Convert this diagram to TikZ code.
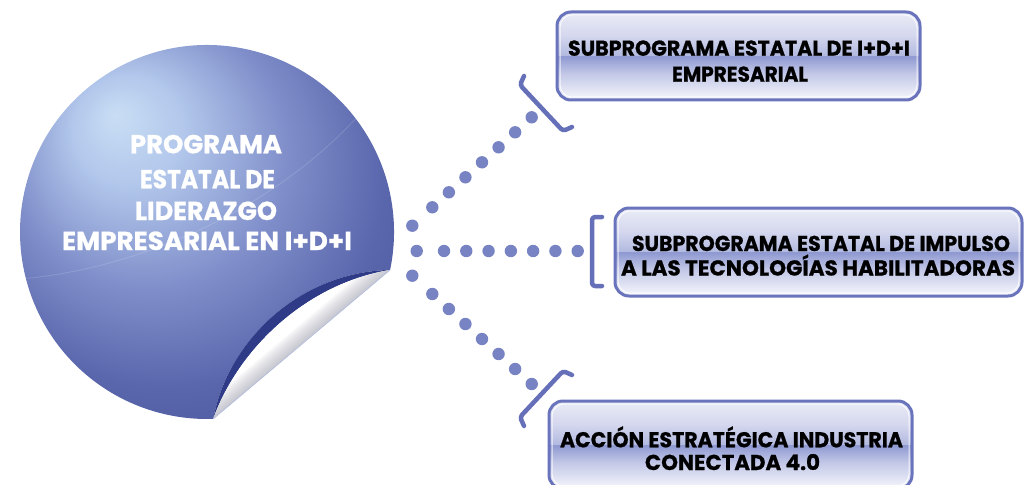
\documentclass[tikz,border=0pt]{standalone}
\usepackage{fontspec}
\usepackage{graphicx}
\newfontfamily\gothic[BoldFeatures={FakeBold=0.8}]{Poppins}
\usetikzlibrary{calc}
\definecolor{dotc}{HTML}{7883C3}
\definecolor{brc}{HTML}{6670B8}
\definecolor{boxborder}{HTML}{6A74BC}
\definecolor{bandc}{HTML}{2F3B87}
\definecolor{cA}{HTML}{C9DEF4}
\definecolor{cB}{HTML}{B2C7EB}
\definecolor{cC}{HTML}{8190CB}
\definecolor{cD}{HTML}{5A67AD}
\definecolor{cE}{HTML}{424D93}
\definecolor{gA}{HTML}{F6F7FC}
\definecolor{gB}{HTML}{C3C8E7}
\definecolor{gC}{HTML}{8E98D1}
\definecolor{gD}{HTML}{B3BAE0}
\definecolor{gE}{HTML}{D5D8EE}
\definecolor{gF}{HTML}{EAECF6}
\definecolor{flapgray}{RGB}{150,150,168}
\definecolor{edgeblue}{HTML}{B0BCE0}
\pgfdeclareradialshading{sphere}{\pgfpoint{-12bp}{14bp}}{color(0bp)=(cA); color(7bp)=(cB); color(17bp)=(cC); color(27bp)=(cD); color(40bp)=(cE); color(50bp)=(cE)}
\pgfdeclareverticalshading{gloss}{100bp}{color(0bp)=(gA); color(25bp)=(gA); color(40bp)=(gB); color(50bp)=(gC); color(50.5bp)=(gD); color(62bp)=(gE); color(75bp)=(gF); color(100bp)=(gF)}
\newsavebox\fitbox
\newcommand\fitw[2]{\sbox\fitbox{#2}\pgfmathsetmacro\fitfac{#1/\the\wd\fitbox}\scalebox{\fitfac}[1]{\usebox\fitbox}}
\begin{document}
\begin{tikzpicture}[x=1pt,y=-1pt,
  dot/.style={fill=dotc},
  bracket/.style={draw=brc, line width=4.5pt, line cap=round, line join=round, rounded corners=3pt},
  box/.style={draw=boxborder, line width=3pt, rounded corners=14pt, shade, shading=gloss, minimum height=88pt, inner sep=0pt, outer sep=0pt},
  innerline/.style={draw=white, line width=1pt, opacity=0.8, rounded corners=12pt},
  boxtxt/.style={font=\gothic\bfseries\fontsize{21.5}{25}\selectfont, text=black, anchor=base, inner sep=0pt},
  circtxt/.style={font=\gothic\bfseries\fontsize{26}{32}\selectfont, text=white, anchor=base, inner sep=0pt}]
\useasboundingbox (0,0) rectangle (1024,484);
\fill[white] (0,0) rectangle (1024,484);

% ---- circle sticker with peeled corner
\coordinate (O) at (207,232);
\path (O) ++(11.7:187) coordinate (A);
\path (O) ++(88.1:187) coordinate (T);
\shade[shading=sphere] (A) arc[start angle=11.7, end angle=-271.9, radius=187]
   .. controls (228,340) and (300,272) .. (A) -- cycle;
\begin{scope}
  \clip (A) arc[start angle=11.7, end angle=-271.9, radius=187]
   .. controls (228,340) and (300,272) .. (A) -- cycle;
  \draw[white, opacity=0.15, line width=0.8pt] (20,279) .. controls (150,268) and (290,200) .. (372,100);
\end{scope}
\fill[bandc] (A) .. controls (300,272) and (228,340) .. (T)
   .. controls (238,350) and (305,284) .. (A) -- cycle;
\fill[white] (A) .. controls (305,284) and (238,350) .. (T) -- cycle;
\begin{scope}
  \clip (A) .. controls (305,284) and (238,350) .. (T) -- cycle;
  \foreach \w in {4,8,...,32} \draw[line width=\w pt, flapgray, opacity=0.08] (T) -- (A);
\end{scope}
\draw[edgeblue, line width=0.6pt] (T) -- (A);

\node[circtxt] (ct1) at (206,153.3) {\fitw{152}{PROGRAMA}};
\node[circtxt] (ct2) at (207.5,188.3) {\fitw{135}{ESTATAL DE}};
\node[circtxt] (ct3) at (206,220) {\fitw{142}{LIDERAZGO}};
\node[circtxt] (ct4) at (207,250) {\fitw{290}{EMPRESARIAL EN I+D+I}};

% ---- boxes
\node[box, minimum width=363pt] (b1) at (738.5,56) {};
\node[box, minimum width=407pt] (b2) at (818.5,252) {};
\node[box, minimum width=363pt] (b3) at (730.5,445) {};
\foreach \b in {b1,b2,b3}
  \draw[innerline] ([shift={(3,3)}]\b.north west) rectangle ([shift={(-3,-3)}]\b.south east);

\node[boxtxt] (t1a) at (739,55.7) {\fitw{342}{SUBPROGRAMA ESTATAL DE I+D+I}};
\node[boxtxt] (t1b) at (740,81.7) {\fitw{136}{EMPRESARIAL}};
\node[boxtxt] (t2a) at (821,251) {\fitw{378}{SUBPROGRAMA ESTATAL DE IMPULSO}};
\node[boxtxt] (t2b) at (818,275.5) {\fitw{394}{A LAS TECNOLOGÍAS HABILITADORAS}};
\node[boxtxt] (t3a) at (731.5,447.3) {\fitw{343}{ACCIÓN ESTRATÉGICA INDUSTRIA}};
\node[boxtxt] (t3b) at (732.5,470) {\fitw{175}{CONECTADA 4.0}};

% ---- dotted connectors
\coordinate (u0) at (412.3,225.7); \coordinate (u1) at (432.3,207.3); \coordinate (u7) at (531.7,117.3);
\coordinate (m0) at (416.7,251);   \coordinate (m1) at (444,251);     \coordinate (m7) at (577.7,251);
\coordinate (l0) at (412.3,275.7); \coordinate (l1) at (432.3,294);   \coordinate (l7) at (531.7,384);
\foreach \s in {u,m,l}{
  \fill[dot] (\s0) circle (6.2);
  \foreach \i in {0,...,6} \fill[dot] ($(\s1)!\i/6!(\s7)$) circle (6.2);
}

% ---- brackets
\draw[bracket] (524,76) -- (520,85) -- (563,131) -- (572,127);
\draw[bracket] (602,217) -- (592,217) -- (592,286) -- (602,286);
\draw[bracket] (572,375) -- (563,371) -- (520,417) -- (524,426);
\end{tikzpicture}
\end{document}
